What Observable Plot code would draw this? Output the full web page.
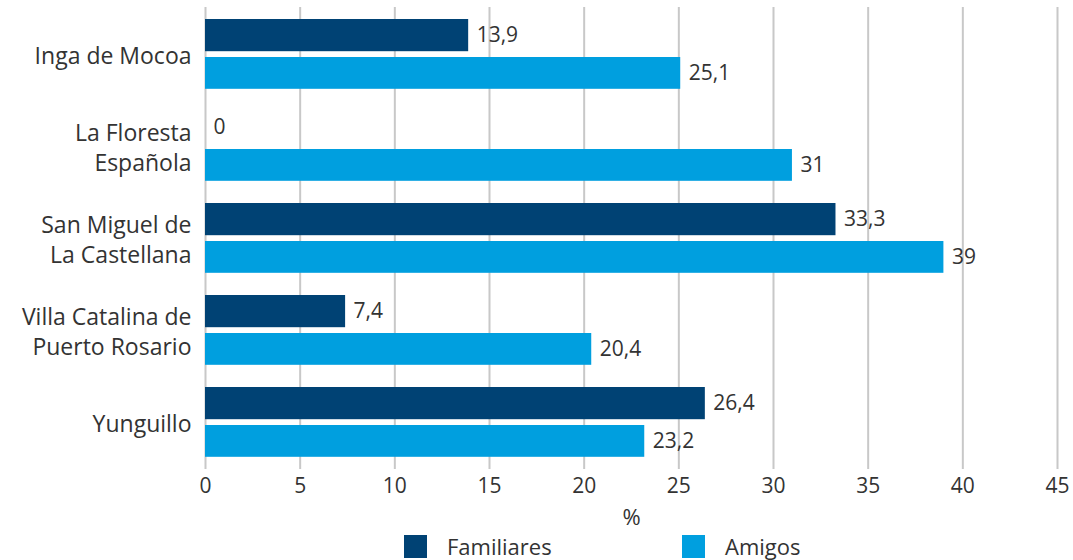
<!DOCTYPE html>
<html>
<head>
<meta charset="utf-8">
<script src="https://cdn.jsdelivr.net/npm/d3@7"></script>
<script src="https://cdn.jsdelivr.net/npm/@observablehq/plot@0.6"></script>
<style>
  html, body { margin: 0; padding: 0; background: #fff; overflow: hidden; }
  body { width: 1073px; height: 560px; font-family: "Open Sans", "Noto Sans", sans-serif; color: #333; }
  #legend { position: relative; height: 25px; }
  .item { position: absolute; top: -2px; display: flex; align-items: flex-start; font-size: 22px; line-height: 26px; }
  .sw { width: 23px; height: 23px; margin-right: 20px; margin-top: 2px; }
</style>
</head>
<body>
<div id="chart"></div>
<div id="legend"></div>
<script>
const categories = ["Inga de Mocoa", "La Floresta\nEspañola", "San Miguel de\nLa Castellana", "Villa Catalina de\nPuerto Rosario", "Yunguillo"];
const familiares = [13.9, 0, 33.3, 7.4, 26.4];
const amigos = [25.1, 31, 39, 20.4, 23.2];
const series = ["Familiares", "Amigos"];
const colors = ["#004274", "#009FDF"];
const xTicks = [0, 5, 10, 15, 20, 25, 30, 35, 40, 45];
const xLabel = "%";

const fam = categories.map((c, i) => ({cat: c, value: familiares[i]}));
const ami = categories.map((c, i) => ({cat: c, value: amigos[i]}));
const fmt = v => String(v).replace(".", ",");

const chart = Plot.plot({
  width: 1073,
  height: 535,
  marginLeft: 205,
  marginRight: 16,
  marginTop: 7,
  marginBottom: 66,
  style: {fontFamily: "'Open Sans', 'Noto Sans', sans-serif", fontSize: "21px", color: "#333"},
  x: {domain: [0, 45]},
  y: {domain: categories, padding: 0},
  marks: [
    Plot.gridX(xTicks, {stroke: "#c8c8c8", strokeOpacity: 1, strokeWidth: 2}),
    Plot.barX(fam, {y: "cat", x: "value", fill: colors[0], insetTop: 11, insetBottom: 48.8}),
    Plot.barX(ami, {y: "cat", x: "value", fill: colors[1], insetTop: 49, insetBottom: 11.2}),
    Plot.text(fam, {y: "cat", x: "value", text: d => fmt(d.value), dy: -19, dx: 8, textAnchor: "start", fill: "#333", fontSize: 21}),
    Plot.text(ami, {y: "cat", x: "value", text: d => fmt(d.value), dy: 19, dx: 8, textAnchor: "start", fill: "#333", fontSize: 21}),
    Plot.axisX(xTicks, {tickSize: 0, tickPadding: 9, fontSize: 21, label: null}),
    Plot.text([xLabel], {frameAnchor: "bottom", dy: 55, fontSize: 22, fill: "#333"}),
    Plot.axisY({tickSize: 0, tickPadding: 14, fontSize: 23, lineHeight: 1.3, label: null})
  ]
});
document.getElementById("chart").appendChild(chart);

const legendPos = [404, 682];
const legend = document.getElementById("legend");
series.forEach((s, i) => {
  const item = document.createElement("div");
  item.className = "item";
  item.style.left = legendPos[i] + "px";
  const sw = document.createElement("div");
  sw.className = "sw";
  sw.style.background = colors[i];
  const t = document.createElement("span");
  t.textContent = s;
  item.appendChild(sw);
  item.appendChild(t);
  legend.appendChild(item);
});
</script>
</body>
</html>
